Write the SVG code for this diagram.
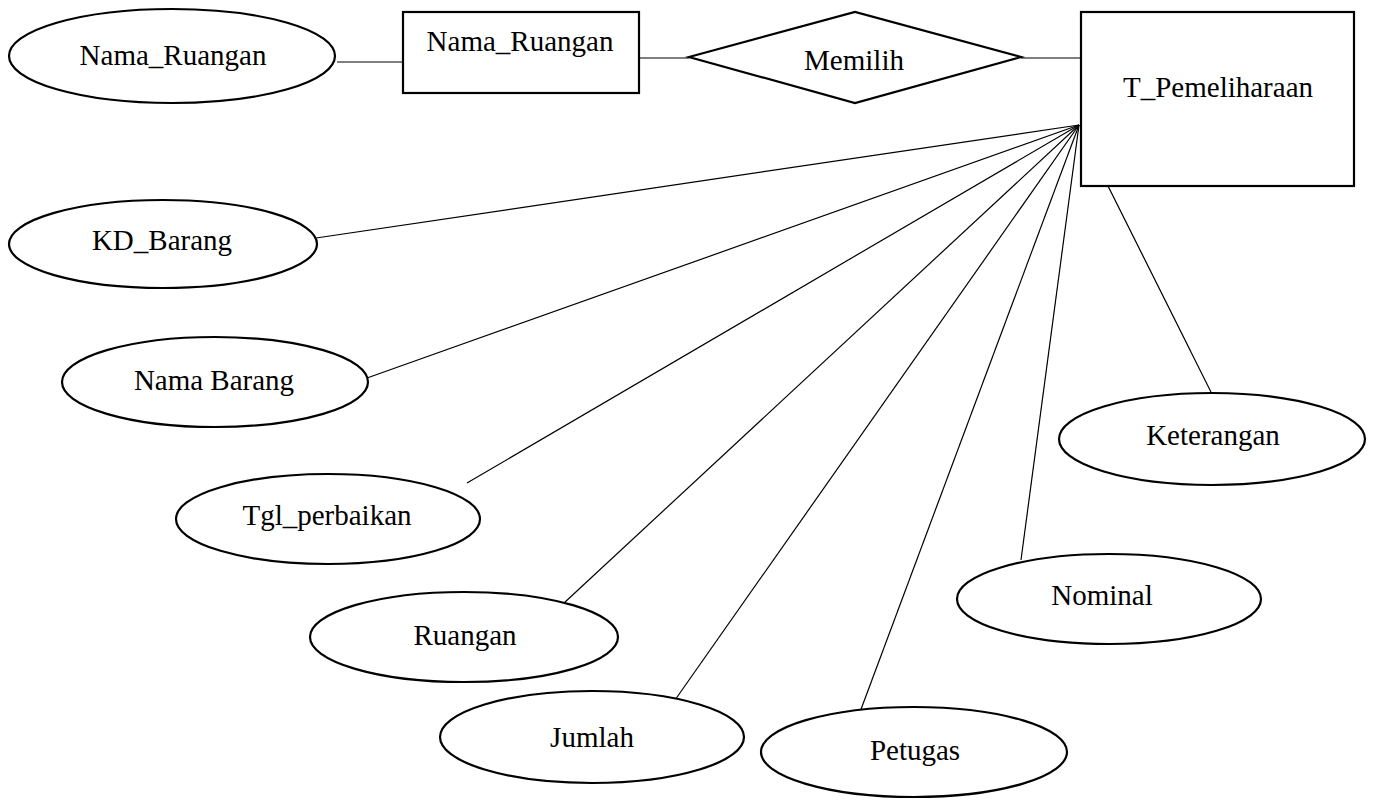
<svg xmlns="http://www.w3.org/2000/svg" width="1376" height="802" viewBox="0 0 1376 802">
<style>
.shape{fill:#fff;stroke:#000;stroke-width:2.2}
.conn line{stroke:#000;stroke-width:1.2}
text{font-family:"Liberation Serif","Times New Roman",serif;font-size:29px;fill:#000;text-anchor:middle}
</style>
<rect width="1376" height="802" fill="#fff"/>
<g id="connectors" class="conn">
<line x1="337" y1="62" x2="403" y2="62"/>
<line x1="639" y1="58" x2="689" y2="58"/>
<line x1="1021" y1="58" x2="1081" y2="58"/>
<line x1="1079" y1="125" x2="316" y2="238"/>
<line x1="1079" y1="125" x2="367" y2="378"/>
<line x1="1079" y1="125" x2="467" y2="483"/>
<line x1="1079" y1="125" x2="564" y2="603"/>
<line x1="1079" y1="125" x2="675" y2="700"/>
<line x1="1079" y1="125" x2="860" y2="712"/>
<line x1="1079" y1="125" x2="1021" y2="560"/>
<line x1="1108" y1="186" x2="1211" y2="392"/>
</g>
<g id="attr-nama-ruangan"><ellipse class="shape" cx="172" cy="56" rx="163" ry="47"/><text x="173" y="65">Nama_Ruangan</text></g>
<g id="ent-nama-ruangan"><rect class="shape" x="403" y="12" width="236" height="81"/><text x="520" y="51">Nama_Ruangan</text></g>
<g id="rel-memilih"><polygon class="shape" points="689,57 855,12 1021,57 855,103"/><text x="854" y="70">Memilih</text></g>
<g id="ent-t-pemeliharaan"><rect class="shape" x="1081" y="12" width="273" height="174"/><text x="1218" y="97">T_Pemeliharaan</text></g>
<g id="attr-kd-barang"><ellipse class="shape" cx="163" cy="244" rx="154" ry="44"/><text x="162" y="250">KD_Barang</text></g>
<g id="attr-nama-barang"><ellipse class="shape" cx="215" cy="382" rx="153" ry="45"/><text x="214" y="390">Nama Barang</text></g>
<g id="attr-tgl-perbaikan"><ellipse class="shape" cx="328" cy="519" rx="152" ry="45"/><text x="327" y="525">Tgl_perbaikan</text></g>
<g id="attr-ruangan"><ellipse class="shape" cx="464" cy="637" rx="154" ry="45"/><text x="465" y="645">Ruangan</text></g>
<g id="attr-jumlah"><ellipse class="shape" cx="592" cy="737" rx="152" ry="46"/><text x="592" y="747">Jumlah</text></g>
<g id="attr-petugas"><ellipse class="shape" cx="914" cy="752" rx="153" ry="45"/><text x="915" y="760">Petugas</text></g>
<g id="attr-nominal"><ellipse class="shape" cx="1109" cy="599" rx="152" ry="45"/><text x="1102" y="605">Nominal</text></g>
<g id="attr-keterangan"><ellipse class="shape" cx="1212" cy="439" rx="153" ry="46"/><text x="1213" y="445">Keterangan</text></g>
</svg>
